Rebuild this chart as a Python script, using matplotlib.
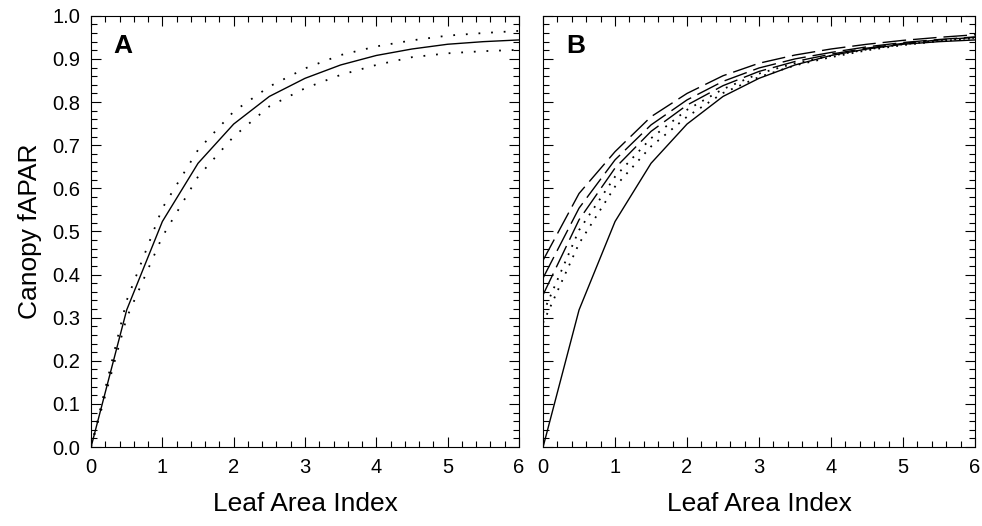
import matplotlib.pyplot as plt
from matplotlib.ticker import MultipleLocator

plt.rcParams['font.family'] = ['Liberation Sans', 'DejaVu Sans']

# Leaf area index sample points
lai = [0, 0.5, 1, 1.5, 2, 2.5, 3, 3.5, 4, 4.5, 5, 5.5, 6]

# Panel A
a_solid = [0.0, 0.318, 0.523, 0.658, 0.749, 0.813, 0.855, 0.886, 0.908, 0.923, 0.934, 0.940, 0.944]
a_upper = [0.0, 0.340, 0.554, 0.689, 0.778, 0.836, 0.878, 0.909, 0.929, 0.943, 0.954, 0.960, 0.965]
a_lower = [0.0, 0.300, 0.488, 0.627, 0.720, 0.790, 0.832, 0.863, 0.886, 0.904, 0.913, 0.918, 0.921]

# Panel B
b_solid = a_solid
b_dash1 = [0.433, 0.588, 0.685, 0.766, 0.820, 0.861, 0.890, 0.909, 0.923, 0.934, 0.943, 0.950, 0.956]
b_dash2 = [0.392, 0.554, 0.666, 0.747, 0.805, 0.848, 0.879, 0.900, 0.915, 0.928, 0.938, 0.945, 0.951]
b_dash3 = [0.353, 0.527, 0.647, 0.732, 0.793, 0.838, 0.871, 0.894, 0.911, 0.925, 0.936, 0.944, 0.950]
b_dot1 = [0.311, 0.503, 0.627, 0.716, 0.782, 0.830, 0.866, 0.890, 0.907, 0.922, 0.934, 0.942, 0.949]
b_dot2 = [0.288, 0.472, 0.604, 0.697, 0.766, 0.821, 0.858, 0.885, 0.904, 0.920, 0.932, 0.941, 0.948]

fig = plt.figure(figsize=(9.82, 5.26), dpi=100)
ax_a = fig.add_axes([0.0927, 0.150, 0.4358, 0.820])
ax_b = fig.add_axes([0.553, 0.150, 0.4399, 0.820])

dots_a = (0, (1, 6))
dots_b = (0, (1, 4))
dash = (0, (17, 5))

ax_a.plot(lai, a_solid, color='black', lw=1.0)
ax_a.plot(lai, a_upper, color='black', lw=1.3, linestyle=dots_a)
ax_a.plot(lai, a_lower, color='black', lw=1.3, linestyle=dots_a)

ax_b.plot(lai, b_solid, color='black', lw=1.0)
for ys in [b_dash1, b_dash2, b_dash3]:
    ax_b.plot(lai, ys, color='black', lw=1.0, linestyle=dash)
for ys in [b_dot1, b_dot2]:
    ax_b.plot(lai, ys, color='black', lw=1.3, linestyle=dots_b)

for ax, letter in [(ax_a, 'A'), (ax_b, 'B')]:
    ax.set_xlim(0, 6)
    ax.set_ylim(0, 1.0)
    ax.xaxis.set_major_locator(MultipleLocator(1))
    ax.xaxis.set_minor_locator(MultipleLocator(0.2))
    ax.yaxis.set_major_locator(MultipleLocator(0.1))
    ax.yaxis.set_minor_locator(MultipleLocator(0.02))
    ax.tick_params(which='both', direction='in', top=True, right=True,
                   labelsize=14.5, width=0.8, pad=8)
    ax.tick_params(which='major', length=7.5)
    ax.tick_params(which='minor', length=4)
    for s in ax.spines.values():
        s.set_linewidth(0.8)
    ax.set_xlabel('Leaf Area Index', fontsize=19, labelpad=11)
    ax.text(0.053, 0.957, letter, transform=ax.transAxes, fontsize=19,
            fontweight='bold', va='top', ha='left')

ax_a.yaxis.set_major_formatter(plt.FuncFormatter(lambda v, p: f'{v:.1f}'))
ax_a.set_ylabel('Canopy fAPAR', fontsize=19, labelpad=7)
ax_b.tick_params(labelleft=False)

fig.savefig('out.png', dpi=100)
